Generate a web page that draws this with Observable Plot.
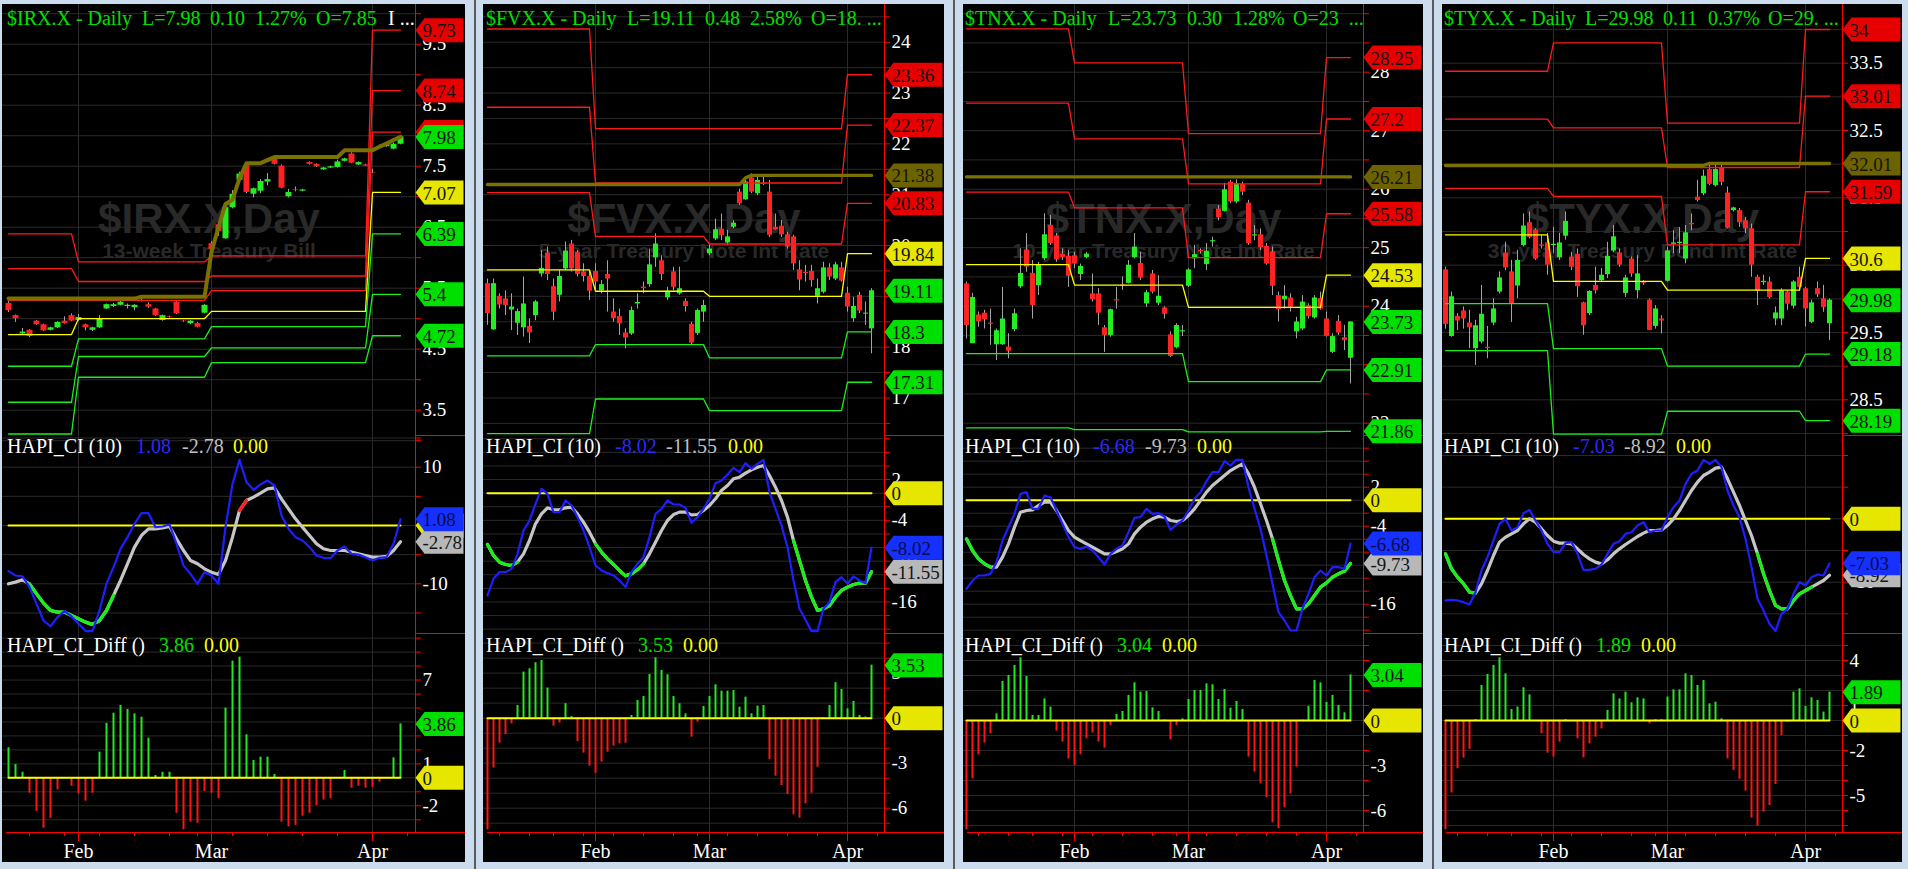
<!DOCTYPE html>
<html><head><meta charset="utf-8">
<script src="https://cdn.jsdelivr.net/npm/d3@7"></script>
<script src="https://cdn.jsdelivr.net/npm/@observablehq/plot@0.6"></script>
<style>
html,body{margin:0;padding:0}
body{width:1908px;height:869px;background:#cbdcee;position:relative;overflow:hidden}
.panel{position:absolute;top:4px;height:858px;background:#000;overflow:hidden}
.t{position:absolute;white-space:pre;font-family:"Liberation Serif",serif;font-size:20px;line-height:20px}
.d{position:absolute}
</style></head><body>
<div class="d" style="left:474px;top:0;width:2px;height:869px;background:#5a5a5a"></div>
<div class="d" style="left:953px;top:0;width:2px;height:869px;background:#5a5a5a"></div>
<div class="d" style="left:1432px;top:0;width:2px;height:869px;background:#5a5a5a"></div>
<script>
// ---------- calendar ----------
const allDays = ["2017-01-05","2017-01-06","2017-01-09","2017-01-10","2017-01-11","2017-01-12","2017-01-13","2017-01-17","2017-01-18","2017-01-19","2017-01-20","2017-01-23","2017-01-24","2017-01-25","2017-01-26","2017-01-27","2017-01-30","2017-01-31",
"2017-02-01","2017-02-02","2017-02-03","2017-02-06","2017-02-07","2017-02-08","2017-02-09","2017-02-10","2017-02-13","2017-02-14","2017-02-15","2017-02-16","2017-02-17","2017-02-21","2017-02-22","2017-02-23","2017-02-24","2017-02-27","2017-02-28",
"2017-03-01","2017-03-02","2017-03-03","2017-03-06","2017-03-07","2017-03-08","2017-03-09","2017-03-10","2017-03-13","2017-03-14","2017-03-15","2017-03-16","2017-03-17","2017-03-20","2017-03-21","2017-03-22","2017-03-23","2017-03-24","2017-03-27","2017-03-28","2017-03-29","2017-03-30","2017-03-31",
"2017-04-03","2017-04-04","2017-04-05","2017-04-06","2017-04-07"];
const weekStarts = ["2017-01-09","2017-01-17","2017-01-23","2017-01-30","2017-02-06","2017-02-13","2017-02-21","2017-02-27","2017-03-06","2017-03-13","2017-03-20","2017-03-27","2017-04-03","2017-04-10"];
const monthStarts = ["2017-02-01","2017-03-01","2017-04-03"];
const monthNames = ["Feb","Mar","Apr"];

// ---------- $IRX.X (from 2017-01-18) ----------
const irxOpen  = [5.25,5.05,4.75,4.81,4.96,4.90,4.81,4.85,4.96,5.05, 4.97,4.90,4.81,4.85,5.16,5.20,5.22,5.20,5.18,5.30, 5.23,5.16,4.97,5.03,5.27,4.96,4.92,4.92,5.09,6.23, 6.54,6.31,6.82,7.27,7.51,7.04,7.09,7.24,7.64,7.50, 7.00,7.11,7.09,7.56,7.53,7.44,7.47,7.48,7.58,7.70, 7.52,7.52,7.40,7.80,7.82,7.78,7.86];
const irxHigh  = [5.28,5.06,4.84,4.82,4.97,4.91,4.86,4.95,5.03,5.08, 5.07,4.91,4.86,5.05,5.24,5.25,5.28,5.24,5.23,5.33, 5.26,5.17,5.06,5.04,5.28,4.97,4.97,4.94,5.23,6.26, 6.58,6.86,7.10,7.40,7.53,7.14,7.28,7.38,7.65,7.52, 7.12,7.16,7.12,7.57,7.54,7.48,7.50,7.60,7.63,7.72, 7.57,7.53,7.45,7.83,7.86,7.88,7.99];
const irxLow   = [5.10,4.94,4.74,4.69,4.89,4.79,4.80,4.84,4.91,4.95, 4.96,4.80,4.79,4.84,5.15,5.18,5.21,5.16,5.13,5.28, 5.17,5.04,4.96,5.01,5.07,4.94,4.90,4.85,5.08,6.02, 6.35,6.30,6.80,7.25,7.05,6.98,7.05,7.18,7.52,7.13, 6.98,7.08,7.08,7.52,7.48,7.43,7.46,7.47,7.57,7.54, 7.51,7.50,7.38,7.79,7.81,7.77,7.85];
const irxClose = [5.13,5.00,4.78,4.71,4.90,4.80,4.85,4.94,4.92,4.96, 5.02,4.85,4.85,5.00,5.23,5.23,5.27,5.22,5.22,5.29, 5.19,5.05,5.05,5.02,5.08,4.95,4.96,4.86,5.22,6.13, 6.43,6.82,7.04,7.37,7.07,7.13,7.25,7.28,7.53,7.14, 7.07,7.10,7.11,7.53,7.49,7.47,7.49,7.57,7.62,7.55, 7.56,7.50,7.39,7.82,7.85,7.86,7.98];
const irxRes   = [[6.39,5.93,6.03,9.73],[5.82,5.61,5.70,8.74],[5.30,5.30,5.46,8.06]];
const irxPivot = [4.74,5.00,5.12,7.07];
const irxSup   = [[4.22,4.67,4.87,6.39],[3.63,4.38,4.52,5.40],[3.11,4.04,4.28,4.72]];
const irxOlive = [5.33,5.33,5.33,5.33,5.33,5.33,5.33,5.33,5.33,5.33, 5.33,5.33,5.33,5.33,5.33,5.33,5.33,5.33,5.33,5.36, 5.36,5.36,5.36,5.36,5.36,5.36,5.36,5.36,5.36,6.10, 6.50,6.88,6.95,7.30,7.55,7.55,7.55,7.60,7.65,7.65, 7.65,7.65,7.65,7.65,7.65,7.65,7.65,7.65,7.76,7.76, 7.76,7.76,7.76,7.82,7.87,7.93,7.98];
const irxCI    = [-7.83,-8.57,-8.74,-10.57,-13.43,-16.29,-17.31,-15.71,-14.69,-15.6, -16.86,-18.11,-18.11,-14.57,-10.0,-7.14,-4.0,-2.0,0.29,2.11, 2.11,-0.29,-0.17,0.17,-3.14,-6.86,-8.29,-10.0,-8.0,-8.57, -10.0,-0.29,7.14,11.26,7.43,6.11,7.03,7.71,6.86,1.71, -0.57,-2.0,-2.57,-3.71,-5.14,-5.54,-5.6,-4.29,-3.6,-4.86, -4.97,-5.43,-6.0,-5.54,-5.43,-3.14,1.08];
const irxSig   = [-10.0,-9.71,-9.31,-10.0,-11.71,-13.31,-14.57,-14.86,-14.86,-15.43, -16.0,-16.57,-16.97,-16.29,-14.57,-12.0,-9.43,-6.57,-3.71,-1.71, -0.57,-0.57,-0.4,-0.17,-2.29,-4.29,-6.0,-6.57,-7.43,-8.0, -8.4,-6.0,-2.0,2.57,4.29,4.86,5.54,6.29,6.46,4.57, 2.86,1.14,-0.29,-1.71,-3.14,-4.0,-4.29,-4.29,-4.29,-4.57, -4.86,-5.14,-5.43,-5.43,-5.31,-4.29,-2.78];
const irxState = "wwwgggggggggggggwwwwwwwwwwwwwwwwwrrwwwwwwwwwwwwwwwwwwwwww";
const irxDiff  = [2.15,0.95,0.4,-1.1,-2.4,-3.6,-2.9,-0.86,-0.05,-0.6, -1.15,-1.67,-1.1,1.84,3.9,4.63,5.18,4.89,4.58,4.34, 2.84,0.17,0.4,0.4,-2.53,-3.72,-3.17,-3.25,-0.98,-1.1, -1.5,4.99,8.35,8.64,3.08,1.24,1.48,1.48,0.24,-3.17, -3.5,-3.4,-2.74,-2.53,-1.98,-1.58,-1.5,0.02,0.53,-0.74, -0.6,-0.74,-0.67,-0.31,-0.05,1.43,3.86];

// ---------- $FVX.X (from 2017-01-05) ----------
const fvxOpen  = [19.25,18.34,19.00,18.95,18.73,18.47,18.38,18.41,18.62,19.44, 19.85,19.19,19.02,19.54,20.03,19.86,19.48,19.39,19.49,19.11, 19.43,18.69,18.60,18.28,18.26,18.85,19.18,19.23,19.76,19.70, 18.97,19.48,19.05,18.90,18.45,18.27,18.69,19.84,20.13,20.32, 20.05,20.36,21.05,20.90,21.33,21.02,21.22,21.05,20.36,20.38, 20.21,20.17,19.52,19.47,19.49,19.00,19.08,19.56,19.34,19.56, 19.06,18.56,19.02,18.65,18.36];
const fvxHigh  = [19.34,19.34,19.05,19.11,19.05,18.75,19.38,18.56,18.92,19.90, 19.97,19.34,19.51,20.07,20.10,19.90,19.64,19.51,19.64,19.31, 19.70,18.95,18.75,18.36,18.79,19.05,19.28,19.93,20.23,19.80, 19.18,19.57,19.57,18.95,18.49,18.75,18.92,20.03,20.52,20.62, 20.30,20.49,21.11,21.34,21.41,21.34,21.38,21.28,20.62,20.49, 20.26,20.20,19.70,19.61,19.61,19.34,19.67,19.64,19.67,19.67, 19.18,18.98,19.08,18.89,19.15];
const fvxLow   = [18.43,18.33,18.75,18.62,18.33,18.23,18.20,18.07,18.52,19.38, 19.31,18.52,18.89,19.51,19.48,19.38,19.28,18.92,19.11,19.05, 18.69,18.49,18.23,17.97,18.23,18.75,19.05,19.18,19.57,19.31, 18.92,19.11,19.02,18.69,18.05,18.23,18.49,19.80,20.10,20.10, 20.00,20.33,20.79,20.89,21.02,20.98,21.18,20.16,20.30,20.16, 19.93,19.51,19.11,19.28,19.18,18.85,19.05,19.31,19.31,19.28, 18.69,18.49,18.66,18.43,17.87];
const fvxClose = [18.66,19.25,18.83,18.82,18.79,18.70,18.85,18.28,18.89,19.55, 19.43,18.69,19.39,19.89,19.54,19.43,19.39,19.10,19.28,19.23, 19.34,18.56,18.46,18.18,18.72,18.88,19.15,19.62,20.03,19.43, 19.10,19.18,19.15,18.80,18.08,18.72,18.82,19.93,20.31,20.20, 20.17,20.44,20.82,21.25,21.05,21.28,21.20,20.20,20.31,20.21, 19.97,19.64,19.32,19.45,19.31,19.15,19.56,19.38,19.62,19.30, 18.79,18.80,18.71,18.67,19.11];
const fvxRes   = [[24.26,22.30,22.30,23.36],[22.72,21.23,21.23,22.37],[21.04,20.18,20.03,20.83]];
const fvxPivot = [19.52,19.10,19.00,19.84];
const fvxSup   = [[17.83,18.05,17.79,18.30],[16.30,16.98,16.75,17.31]];
const fvxOlive = [21.2,21.2,21.2,21.2,21.2,21.2,21.2,21.2,21.2,21.2, 21.2,21.2,21.2,21.2,21.2,21.2,21.2,21.2,21.2,21.2, 21.2,21.2,21.2,21.2,21.2,21.2,21.2,21.2,21.2,21.2, 21.2,21.2,21.2,21.2,21.2,21.2,21.2,21.2,21.2,21.2, 21.2,21.2,21.2,21.33,21.38,21.38,21.38,21.38,21.38,21.38, 21.38,21.38,21.38,21.38,21.38,21.38,21.38,21.38,21.38,21.38, 21.38,21.38,21.38,21.38,21.38];
const fvxCI    = [-15.05,-12.6,-11.62,-11.62,-11.13,-8.92,-5.49,-4.02,-1.57,0.64, -0.1,-2.79,-2.79,-1.08,-1.81,-3.53,-5.49,-7.94,-10.64,-11.37, -11.76,-12.11,-12.84,-13.82,-11.62,-10.39,-9.41,-6.47,-3.04,-2.3, -1.08,-1.67,-1.67,-2.16,-4.36,-3.53,-2.3,-0.83,1.47,1.86, 2.75,3.73,3.09,4.41,3.58,4.31,4.9,0.15,-2.3,-4.75, -7.94,-12.84,-17.01,-18.63,-20.29,-20.29,-17.01,-16.03,-13.09,-12.35, -13.33,-12.25,-12.84,-13.24,-8.02];
const fvxSig   = [-7.55,-9.17,-10.15,-10.49,-10.64,-10.15,-8.92,-6.96,-4.51,-3.04, -2.16,-2.45,-2.45,-2.16,-2.06,-3.04,-4.26,-5.74,-7.45,-8.68, -9.66,-10.49,-11.37,-12.16,-11.86,-11.27,-10.39,-8.92,-7.21,-5.49, -4.02,-3.14,-2.79,-2.79,-3.19,-3.14,-2.55,-1.81,-0.83,0.39, 1.13,2.11,2.35,2.94,3.43,3.82,4.07,2.6,0.88,-1.08, -3.53,-6.96,-9.9,-12.84,-15.29,-17.25,-17.01,-16.52,-15.29,-14.31, -13.82,-13.43,-13.24,-13.24,-11.55];
const fvxState = "ggggggwwwwwwwwwwwwgggggggggwwwwwwwwwwwwwwwwwwwwwwwwgggggggggggggg";
const fvxDiff  = [-7.44,-3.33,-1.67,-1.1,-0.38,0.84,3.07,3.29,3.69,3.84, 2.0,-0.53,-0.33,0.96,0.1,-1.56,-2.33,-3.2,-3.67,-2.93, -2.27,-1.87,-1.71,-1.67,0.18,1.18,1.44,2.91,4.02,3.18, 2.89,1.44,0.96,0.29,-1.27,-0.27,0.78,1.44,2.22,1.8, 1.8,1.84,0.73,1.4,0.29,0.8,0.84,-2.76,-3.87,-4.49, -5.09,-6.44,-6.67,-5.71,-5.0,-3.27,0.02,0.84,2.36,1.91, 0.62,1.11,0.18,0.07,3.53];

// ---------- $TNX.X ----------
const tnxOpen  = [24.38,23.36,23.85,23.88,23.71,23.34,23.34,23.30,23.60,24.33, 24.96,24.56,24.35,24.81,25.38,25.20,24.89,24.85,24.86,24.54, 24.83,24.21,24.21,23.63,23.50,24.11,24.36,24.39,24.83,24.73, 24.04,24.55,24.05,23.97,23.51,23.29,23.56,24.34,24.81,24.95, 24.71,25.10,25.66,25.62,26.12,25.78,26.08,25.76,25.20,25.22, 25.02,24.93,24.18,24.11,24.14,23.56,23.61,24.01,23.80,24.13, 23.78,23.21,23.74,23.46,23.11];
const tnxHigh  = [24.41,24.22,23.90,23.93,23.95,23.61,24.32,23.53,23.95,24.98, 25.24,24.78,24.75,25.58,25.55,25.24,24.98,24.95,24.92,24.72, 24.92,24.55,24.30,23.67,23.95,24.32,24.50,24.78,25.24,24.92, 24.27,24.61,24.52,23.99,23.56,23.70,23.67,24.64,25.04,24.98, 25.07,25.18,25.72,26.10,26.15,26.16,26.12,25.81,25.38,25.32, 25.07,25.01,24.24,24.35,24.21,23.81,24.18,24.04,24.18,24.24, 23.90,23.53,23.84,23.67,23.73];
const tnxLow   = [23.44,23.36,23.64,23.61,23.33,23.07,23.33,23.10,23.56,24.30, 24.58,23.78,24.18,24.78,25.04,24.75,24.78,24.32,24.64,24.44, 24.81,24.07,23.67,23.21,23.47,23.95,24.27,24.38,24.81,24.44, 23.98,24.21,24.01,23.78,23.12,23.27,23.48,24.32,24.64,24.89, 24.61,25.01,25.46,25.61,25.75,25.75,25.89,25.04,25.12,24.95, 24.70,24.18,23.73,23.95,23.90,23.44,23.58,23.78,23.78,23.93, 23.47,23.19,23.50,23.24,22.67];
const tnxClose = [23.67,24.15,23.73,23.77,23.69,23.58,23.78,23.23,23.87,24.56, 24.67,24.01,24.71,25.22,25.07,24.79,24.83,24.51,24.72,24.68, 24.89,24.11,23.88,23.50,23.94,24.09,24.34,24.70,25.01,24.48, 24.23,24.24,24.17,23.86,23.14,23.67,23.58,24.62,24.88,24.93, 24.94,25.12,25.51,25.99,25.78,26.09,25.95,25.07,25.22,25.00, 24.72,24.34,23.94,24.17,23.98,23.73,24.07,23.82,24.14,23.95, 23.48,23.48,23.54,23.41,23.73];
const tnxRes   = [[28.74,28.16,26.95,28.25],[27.47,26.86,26.09,27.20],[25.95,25.68,24.83,25.58]];
const tnxPivot = [24.71,24.36,23.98,24.53];
const tnxSup   = [[23.19,23.19,22.71,22.91],[21.92,21.89,21.85,21.86]];
const tnxOlive = [26.21,26.21,26.21,26.21,26.21,26.21,26.21,26.21,26.21,26.21, 26.21,26.21,26.21,26.21,26.21,26.21,26.21,26.21,26.21,26.21, 26.21,26.21,26.21,26.21,26.21,26.21,26.21,26.21,26.21,26.21, 26.21,26.21,26.21,26.21,26.21,26.21,26.21,26.21,26.21,26.21, 26.21,26.21,26.21,26.21,26.21,26.21,26.21,26.21,26.21,26.21, 26.21,26.21,26.21,26.21,26.21,26.21,26.21,26.21,26.21,26.21, 26.21,26.21,26.21,26.21,26.21];
const tnxCI    = [-13.64,-12.36,-11.59,-11.59,-11.33,-9.54,-6.21,-4.15,-2.1,0.97, 1.23,-1.33,-1.33,0.72,0.46,-1.59,-3.64,-5.69,-7.23,-7.49, -7.13,-7.74,-8.77,-9.9,-8.26,-7.49,-6.97,-4.92,-2.72,-2.62, -1.33,-2.1,-2.0,-2.51,-4.56,-3.74,-3.13,-1.59,0.21,1.23, 2.92,4.31,4.31,6.0,5.33,6.21,6.21,2.0,-1.33,-4.41, -8.51,-12.87,-17.23,-18.51,-20.05,-20.05,-16.72,-14.41,-11.85,-10.82, -11.59,-10.31,-10.31,-10.56,-6.68];
const tnxSig   = [-5.95,-7.74,-9.03,-9.79,-10.31,-10.31,-8.77,-6.72,-4.15,-1.85, -1.59,-1.49,-0.82,-0.31,-0.31,-1.59,-3.13,-4.67,-5.69,-6.21, -6.72,-7.23,-7.74,-8.26,-8.26,-7.9,-7.49,-6.72,-5.18,-4.15, -3.38,-2.87,-2.51,-2.62,-3.13,-3.28,-3.13,-2.36,-1.33,-0.05, 1.23,2.26,3.03,3.79,4.56,5.08,5.59,4.05,2.0,-0.56, -3.13,-5.95,-9.28,-12.36,-14.67,-16.72,-16.72,-15.95,-14.67,-13.38, -12.72,-11.85,-11.33,-10.92,-9.73];
const tnxState = "gggggwwwwwwwwwwwwwwwwwwwwwwwwwwwwwwwwwwwwwwwwwwwwwwgggggggggggggg";
const tnxDiff  = [-7.29,-3.89,-2.29,-1.51,-0.89,0.44,2.6,3.0,3.67,4.18, 2.93,0.33,0.33,1.44,0.89,-0.71,-1.44,-2.56,-3.0,-2.29, -1.22,-0.84,-1.44,-1.84,-0.33,0.4,0.6,1.67,2.51,1.89, 1.93,0.84,0.6,0.04,-1.29,-0.33,0.11,1.4,2.0,2.0, 2.44,2.38,1.4,2.07,0.82,1.27,0.73,-2.44,-3.44,-4.22, -5.16,-6.82,-7.22,-5.82,-4.89,-3.11,0.02,0.93,2.67,2.51, 1.2,1.67,1.0,0.51,3.04];

// ---------- $TYX.X ----------
const tyxOpen  = [30.43,29.44,29.74,29.82,29.64,29.26,29.36,29.28,29.64,30.10, 30.68,30.40,30.19,30.79,31.13,31.02,30.80,30.83,30.79,30.61, 30.93,30.62,30.66,29.94,29.78,30.20,30.27,30.36,30.71,30.68, 30.08,30.59,30.12,30.25,29.98,29.59,29.70,30.26,30.81,30.82, 30.59,31.12,31.51,31.56,31.92,31.68,31.95,31.57,31.31,31.31, 31.16,31.04,30.32,30.24,30.25,29.70,29.70,30.10,29.89,30.32, 30.15,29.65,30.15,30.00,29.63];
const tyxHigh  = [30.47,30.10,29.78,29.88,29.83,29.68,30.20,29.59,30.00,30.40, 30.84,30.57,30.72,31.26,31.29,31.04,30.94,30.97,31.06,30.97, 31.29,30.69,30.74,29.95,30.12,30.47,30.45,30.84,31.09,30.74, 30.35,30.62,30.64,30.27,30.00,29.90,29.75,30.77,31.01,31.06, 31.09,31.26,31.76,31.91,31.98,31.98,31.98,31.66,31.36,31.34, 31.21,31.11,30.35,30.35,30.32,29.88,30.15,30.12,30.27,30.47, 30.17,29.98,30.25,30.20,30.00];
const tyxLow   = [29.55,29.43,29.53,29.55,29.26,29.01,29.33,29.11,29.60,30.07, 30.42,29.65,30.00,30.77,30.89,30.57,30.74,30.35,30.67,30.57, 30.87,30.42,30.02,29.46,29.75,30.07,30.25,30.30,30.69,30.47, 30.02,30.32,30.00,30.20,29.53,29.55,29.48,30.25,30.67,30.67, 30.52,31.01,31.44,31.53,31.68,31.66,31.68,31.04,31.29,31.06, 30.97,30.32,29.90,30.20,30.00,29.60,29.60,29.83,29.85,30.15, 29.58,29.63,30.02,29.80,29.38];
const tyxClose = [29.62,30.03,29.67,29.70,29.57,29.60,29.77,29.26,29.85,30.31, 30.46,29.92,30.57,31.08,30.91,30.59,30.78,30.50,30.81,30.83, 31.15,30.47,30.18,29.60,30.11,30.12,30.35,30.63,30.92,30.50, 30.31,30.37,30.37,30.23,29.53,29.85,29.67,30.71,30.83,30.84, 30.98,31.10,31.46,31.82,31.70,31.92,31.73,31.05,31.35,31.13, 31.04,30.50,30.11,30.26,30.02,29.79,30.12,29.92,30.25,30.17, 29.85,29.94,30.06,29.87,29.98];
const tyxRes   = [[33.38,33.80,32.61,34.00],[32.67,32.54,31.95,33.01],[31.64,31.52,30.80,31.59]];
const tyxPivot = [30.95,30.26,30.13,30.60];
const tyxSup   = [[29.93,29.26,29.00,29.18],[29.23,27.99,28.33,28.19]];
const tyxOlive = [31.98,31.98,31.98,31.98,31.98,31.98,31.98,31.98,31.98,31.98, 31.98,31.98,31.98,31.98,31.98,31.98,31.98,31.98,31.98,31.98, 31.98,31.98,31.98,31.98,31.98,31.98,31.98,31.98,31.98,31.98, 31.98,31.98,31.98,31.98,31.98,31.98,31.98,31.98,31.98,31.98, 31.98,31.98,31.98,31.98,32.01,32.01,32.01,32.01,32.01,32.01, 32.01,32.01,32.01,32.01,32.01,32.01,32.01,32.01,32.01,32.01, 32.01,32.01,32.01,32.01,32.01];
const tyxCI    = [-12.89,-12.79,-12.89,-13.16,-13.53,-11.58,-8.16,-6.05,-3.42,-0.79, 0,-1.84,-1.32,0.89,1.42,-0.26,-1.84,-3.95,-5.26,-5.26, -3.84,-3.68,-5.53,-8.05,-8.05,-7.89,-7.21,-5.53,-3.95,-3.53, -2.37,-2.11,-1.05,-0.53,-2.11,-1.84,-1.84,0.26,1.84,2.89, 5.53,7.11,7.63,9.32,8.68,9.32,8.16,4.47,2.11,0.26, -3.16,-7.63,-12.63,-14.47,-16.58,-17.74,-15.0,-14.21,-11.84,-10.0, -10.53,-9.21,-8.79,-8.95,-7.03];
const tyxSig   = [-5.53,-7.89,-9.21,-10.26,-11.58,-11.74,-10.26,-8.16,-5.79,-3.68, -2.89,-2.37,-1.84,-0.79,0,-0.53,-1.58,-2.63,-3.53,-3.84, -3.84,-3.95,-4.74,-5.63,-6.32,-6.84,-7.11,-6.47,-5.53,-4.74, -4.05,-3.42,-2.79,-2.26,-1.84,-1.84,-1.74,-1.05,0,1.32, 2.89,4.47,5.79,6.84,7.37,8.0,8.16,6.32,4.21,2.11, -0.26,-2.63,-5.53,-8.68,-11.32,-13.68,-14.21,-14.21,-12.89,-11.84, -11.32,-10.79,-10.26,-9.74,-8.92];
const tyxState = "ggggggwwwwwwwwwwwwwwwwwwwwwwwwwwwwwwwwwwwwwwwwwwwwwwggggggggggwww";
const tyxDiff  = [-7.29,-4.84,-3.22,-2.51,-1.93,0.05,2.33,3.07,3.67,4.18, 3.11,0.73,0.89,2.18,1.71,-0.05,-0.89,-2.18,-2.44,-1.44, 0.05,-0.05,-1.22,-2.49,-1.56,-1.11,-0.56,0.67,1.78,1.44, 1.89,1.18,1.51,1.44,-0.22,0.05,0.05,1.56,2.04,2.04, 3.11,3.0,2.33,2.67,1.11,1.22,0.11,-2.56,-3.33,-3.93, -4.71,-6.51,-7.04,-6.11,-5.67,-4.27,-1.0,-0.11,1.89,2.11, 0.93,1.51,1.33,0.56,1.89];

// ---------- styling ----------
const FONT = "Liberation Serif";
const SANS = "Liberation Sans";
const C = {lineR:"#ff1a1a", lineY:"#ffff00", lineG:"#1aef1a", up:"#22ee22", dn:"#ff2222", wick:"#a4a4a4", olive:"#7b7100",
  tagR:"#e60000", tagG:"#00e000", tagY:"#e6e600", tagO:"#6c6300", tagB:"#1630ff", tagGr:"#b8b8b8",
  blue:"#1e1eff", sig:"#c6c6c6", grid:"#2a2a2a", axis:"#ff0000", barG:"#22e822", barR:"#ff1414",
  txtG:"#00e000", txtW:"#ffffff", txtB:"#2a2aff", txtGr:"#c0c0c0", txtY:"#ffff00"};

const panels = [
 {left:2, width:463, axisRel:413, x0:6, step:7, start:8, oliveW:4,
  title:[["$IRX.X - Daily",5,C.txtG],["L=7.98",140,C.txtG],["0.10",208,C.txtG],["1.27%",253,C.txtG],["O=7.85",314,C.txtG],["I ...",386,C.txtW]],
  hapiPos:[5,134,180,231], diffPos:[5,157,202],
  wm:"$IRX.X,Day", sub:"13-week Treasury Bill",
  open:irxOpen, high:irxHigh, low:irxLow, close:irxClose, res:irxRes, piv:irxPivot, sup:irxSup, olive:irxOlive,
  ci:irxCI, sig:irxSig, state:irxState, diff:irxDiff,
  priceDomain:[3.085,10.151], priceGrid:d3.range(3,10.01,0.5), priceLabels:[3.5,4.5,5.5,6.5,7.5,8.5,9.5],
  ciDomain:[-18.52,15.43], ciGrid:[-15,-10,-5,0,5,10,15], ciLabels:[10,0,-10],
  diffDomain:[-3.91,10.33], diffGrid:d3.range(-3,10.01,1), diffLabels:[7,4,1,-2]},
 {left:483, width:461, axisRel:401, x0:4, step:6, start:0, oliveW:3.4,
  title:[["$FVX.X - Daily",3,C.txtG],["L=19.11",144,C.txtG],["0.48",222,C.txtG],["2.58%",267,C.txtG],["O=18. ...",328,C.txtG]],
  hapiPos:[3,132,183,245], diffPos:[3,155,200],
  wm:"$FVX.X,Day", sub:"5-year Treasury Note Int Rate",
  open:fvxOpen, high:fvxHigh, low:fvxLow, close:fvxClose, res:fvxRes, piv:fvxPivot, sup:fvxSup, olive:fvxOlive,
  ci:fvxCI, sig:fvxSig, state:fvxState, diff:fvxDiff,
  priceDomain:[16.262,24.742], priceGrid:d3.range(16.5,24.51,0.5), priceLabels:[17,18,19,20,21,22,23,24],
  ciDomain:[-20.64,8.48], ciGrid:d3.range(-20,8.01,2), ciLabels:[2,-4,-10,-16],
  diffDomain:[-7.62,5.64], diffGrid:d3.range(-7,5.01,1), diffLabels:[3,0,-3,-6]},
 {left:963, width:460, axisRel:400, x0:3, step:6, start:0, oliveW:3.4,
  title:[["$TNX.X - Daily",2,C.txtG],["L=23.73",145,C.txtG],["0.30",224,C.txtG],["1.28%",270,C.txtG],["O=23  ...",330,C.txtG]],
  hapiPos:[2,130,182,234], diffPos:[2,154,199],
  wm:"$TNX.X,Day", sub:"10-year Treasury Note Int Rate",
  open:tnxOpen, high:tnxHigh, low:tnxLow, close:tnxClose, res:tnxRes, piv:tnxPivot, sup:tnxSup, olive:tnxOlive,
  ci:tnxCI, sig:tnxSig, state:tnxState, diff:tnxDiff,
  priceDomain:[21.789,29.157], priceGrid:d3.range(22,29.01,0.5), priceLabels:[22,23,24,25,26,27,28],
  ciDomain:[-20.51,9.95], ciGrid:d3.range(-20,8.01,2), ciLabels:[2,-4,-10,-16],
  diffDomain:[-7.47,5.8], diffGrid:d3.range(-7,5.01,1), diffLabels:[3,0,-3,-6]},
 {left:1442, width:460, axisRel:400, x0:3, step:6, start:0, oliveW:3.4,
  title:[["$TYX.X - Daily",2,C.txtG],["L=29.98",143,C.txtG],["0.11",221,C.txtG],["0.37%",266,C.txtG],["O=29. ...",326,C.txtG]],
  hapiPos:[2,131,182,234], diffPos:[2,154,199],
  wm:"$TYX.X,Day", sub:"30-year Treasury Bond Int Rate",
  open:tyxOpen, high:tyxHigh, low:tyxLow, close:tyxClose, res:tyxRes, piv:tyxPivot, sup:tyxSup, olive:tyxOlive,
  ci:tyxCI, sig:tyxSig, state:tyxState, diff:tyxDiff,
  priceDomain:[27.970,34.371], priceGrid:d3.range(28,34.01,0.5), priceLabels:[28.5,29.5,30.5,31.5,32.5,33.5],
  ciDomain:[-18.11,13.16], ciGrid:[-15,-10,-5,0,5,10], ciLabels:[0,-10],
  diffDomain:[-7.47,5.8], diffGrid:d3.range(-7,5.01,1), diffLabels:[4,1,-2,-5]}
];

function tagSym(w){ return {draw(ctx){ ctx.moveTo(0,0); ctx.lineTo(9,-12); ctx.lineTo(w,-12); ctx.lineTo(w,12); ctx.lineTo(9,12); ctx.closePath(); }}; }
function tagMarks(tags, w){
  return tags.flatMap(t => [
    Plot.dot([t], {y:"v", frameAnchor:"right", symbol:tagSym(w), r:6, fill:t.fill, stroke:"none"}),
    Plot.text([t], {y:"v", frameAnchor:"right", dx:7, dy:1, textAnchor:"start", text:d => d.label, fill:t.ink || "#151515", fontSize:19, fontFamily:FONT})
  ]);
}
function yAxis(grid, labels){
  const set = new Set(labels);
  return Plot.axisY(grid, {anchor:"right", tickSize:5, tickPadding:2, stroke:C.axis, fill:"#ffffff", fontSize:19, fontFamily:FONT, label:null,
    tickFormat: d => set.has(d) ? String(d) : ""});
}
function addDiv(parent, css){ const e = document.createElement("div"); e.className = "d"; Object.assign(e.style, css); parent.appendChild(e); return e; }
function addText(parent, txt, left, top, color){ const e = document.createElement("div"); e.className = "t"; e.textContent = txt; Object.assign(e.style, {left:left+"px", top:top+"px", color}); parent.appendChild(e); }

function build(cfg){
  const n = cfg.close.length;
  const days = allDays.slice(cfg.start);
  const I = d3.range(n);
  const idxOf = d => { const k = allDays.indexOf(d); return k < 0 ? allDays.length - cfg.start : k - cfg.start; };
  const monthIdx = monthStarts.map(idxOf);
  const weekIdx = weekStarts.map(idxOf).filter(i => i >= 0);
  const mon = i => +days[i].slice(5,7) - 1;
  const mR = cfg.width - cfg.axisRel;
  const tagW = mR - 2;
  const xDom = [-cfg.x0 / cfg.step, (cfg.axisRel - cfg.x0) / cfg.step];
  const common = (h, dom, mb) => ({width:cfg.width, height:h, marginLeft:0, marginRight:mR, marginTop:0, marginBottom:mb || 0,
    y:{domain:dom}, color:{type:"identity"}, style:{background:"transparent", overflow:"visible"}});
  const gridY = vals => Plot.gridY(vals, {stroke:C.grid, strokeOpacity:1});
  const gridX = () => Plot.gridX(monthIdx, {stroke:C.grid, strokeOpacity:1});

  // price pane
  const rows = I.map(i => ({i, o:cfg.open[i], h:cfg.high[i], l:cfg.low[i], c:cfg.close[i]}));
  const lv = [];
  cfg.res.forEach((a, k) => I.forEach(i => lv.push({i, v:a[mon(i)], k:"r" + k, col:C.lineR})));
  I.forEach(i => lv.push({i, v:cfg.piv[mon(i)], k:"p", col:C.lineY}));
  cfg.sup.forEach((a, k) => I.forEach(i => lv.push({i, v:a[mon(i)], k:"s" + k, col:C.lineG})));
  const priceTags = [
    ...cfg.res.map(a => ({v:a[3], fill:C.tagR})),
    {v:cfg.olive[n - 1], fill:C.tagO},
    {v:cfg.piv[3], fill:C.tagY},
    ...cfg.sup.map(a => ({v:a[3], fill:C.tagG})),
    {v:cfg.close[n - 1], fill:C.tagG}
  ].map(t => ({...t, label:String(+t.v.toFixed(2))}));
  const price = Plot.plot({...common(431, cfg.priceDomain), x:{domain:xDom, axis:null}, marks:[
    gridY(cfg.priceGrid), gridX(),
    Plot.text([cfg.wm], {frameAnchor:"top", dy:199, text:d => d, fill:"#292929", fontSize:42, fontWeight:"bold", fontFamily:SANS}),
    Plot.text([cfg.sub], {frameAnchor:"top", dy:239, text:d => d, fill:"#292929", fontSize:21, fontWeight:"bold", fontFamily:SANS}),
    Plot.ruleX(rows, {x:"i", y1:"l", y2:"h", stroke:C.wick, strokeWidth:1}),
    Plot.ruleX(rows, {x:"i", y1:"o", y2:"c", stroke:d => d.c >= d.o ? C.up : C.dn, strokeWidth:cfg.step - 1}),
    Plot.line(lv, {x:"i", y:"v", z:"k", stroke:d => d.col, strokeWidth:1.3}),
    Plot.line(I, {x:i => i, y:i => cfg.olive[i], stroke:C.olive, strokeWidth:cfg.oliveW}),
    yAxis(cfg.priceGrid, cfg.priceLabels),
    ...tagMarks(priceTags, tagW)
  ]});

  // HAPI_CI pane
  const runs = [];
  let rid = 0;
  for (let i = 0; i < n; ){
    const s = cfg.state[i];
    let j = i; while (j + 1 < n && cfg.state[j + 1] === s) j++;
    if (s !== "w"){
      const end = j === i ? Math.min(j + 1, n - 1) : j;
      for (let q = i; q <= end; q++) runs.push({i:q, v:cfg.sig[q], run:rid, col:s === "g" ? C.lineG : C.dn});
      rid++;
    }
    i = j + 1;
  }
  const ciTags = [
    {v:0, fill:C.tagY, label:"0"},
    {v:cfg.sig[n - 1], fill:C.tagGr, label:cfg.sig[n - 1].toFixed(2)},
    {v:cfg.ci[n - 1], fill:C.tagB, label:cfg.ci[n - 1].toFixed(2), ink:"#0c0c48"}
  ];
  const hapi = Plot.plot({...common(198, cfg.ciDomain), x:{domain:xDom, axis:null}, marks:[
    gridY(cfg.ciGrid), gridX(),
    Plot.line(I, {x:i => i, y:() => 0, stroke:C.lineY, strokeWidth:2}),
    Plot.line(I, {x:i => i, y:i => cfg.sig[i], stroke:C.sig, strokeWidth:3.2}),
    Plot.line(runs, {x:"i", y:"v", z:"run", stroke:d => d.col, strokeWidth:3.2}),
    Plot.line(I, {x:i => i, y:i => cfg.ci[i], stroke:C.blue, strokeWidth:2.2}),
    yAxis(cfg.ciGrid, cfg.ciLabels),
    ...tagMarks(ciTags, tagW)
  ]});

  // HAPI_CI_Diff pane + date axis
  const dRows = I.map(i => ({i, v:cfg.diff[i]}));
  const diffTags = [{v:0, fill:C.tagY, label:"0"}, {v:cfg.diff[n - 1], fill:C.tagG, label:cfg.diff[n - 1].toFixed(2)}];
  const mLab = new Map(monthIdx.map((m, j) => [m, monthNames[j]]));
  const diffP = Plot.plot({...common(229, cfg.diffDomain, 30), x:{domain:xDom}, marks:[
    gridY(cfg.diffGrid), gridX(),
    Plot.ruleX(dRows, {x:"i", y1:() => 0, y2:"v", stroke:d => d.v >= 0 ? C.barG : C.barR, strokeWidth:2}),
    Plot.line(I, {x:i => i, y:() => 0, stroke:C.lineY, strokeWidth:2}),
    yAxis(cfg.diffGrid, cfg.diffLabels),
    Plot.axisX(weekIdx, {anchor:"bottom", tickSize:4, stroke:C.axis, fill:"none", label:null, tickFormat:() => ""}),
    Plot.axisX(monthIdx, {anchor:"bottom", tickSize:9, tickPadding:2, stroke:C.axis, fill:"#ffffff", fontSize:20, fontFamily:FONT, label:null, tickFormat:d => mLab.get(d)}),
    ...tagMarks(diffTags, tagW)
  ]});

  // assemble
  const div = document.createElement("div");
  div.className = "panel";
  div.style.left = cfg.left + "px";
  div.style.width = cfg.width + "px";
  document.body.appendChild(div);
  addDiv(div, {left:cfg.axisRel + "px", top:"0px", width:"1px", height:"828px", background:C.axis});
  addDiv(div, {left:cfg.axisRel + "px", top:"431px", width:mR + "px", height:"1px", background:C.axis});
  addDiv(div, {left:cfg.axisRel + "px", top:"629px", width:mR + "px", height:"1px", background:C.axis});
  addDiv(div, {left:"4px", top:"828px", width:(cfg.width - 4) + "px", height:"1px", background:C.axis});
  [[price, 0], [hapi, 431], [diffP, 629]].forEach(([svg, top]) => {
    svg.style.position = "absolute"; svg.style.left = "0px"; svg.style.top = top + "px";
    div.appendChild(svg);
  });
  cfg.title.forEach(([txt, x, col]) => addText(div, txt, x, 4, col));
  const hp = cfg.hapiPos;
  addText(div, "HAPI_CI (10)", hp[0], 432, C.txtW);
  addText(div, cfg.ci[n - 1].toFixed(2), hp[1], 432, C.txtB);
  addText(div, cfg.sig[n - 1].toFixed(2), hp[2], 432, C.txtGr);
  addText(div, "0.00", hp[3], 432, C.txtY);
  const dp = cfg.diffPos;
  addText(div, "HAPI_CI_Diff ()", dp[0], 631, C.txtW);
  addText(div, cfg.diff[n - 1].toFixed(2), dp[1], 631, C.txtG);
  addText(div, "0.00", dp[2], 631, C.txtY);
}
panels.forEach(build);
</script>
</body></html>
